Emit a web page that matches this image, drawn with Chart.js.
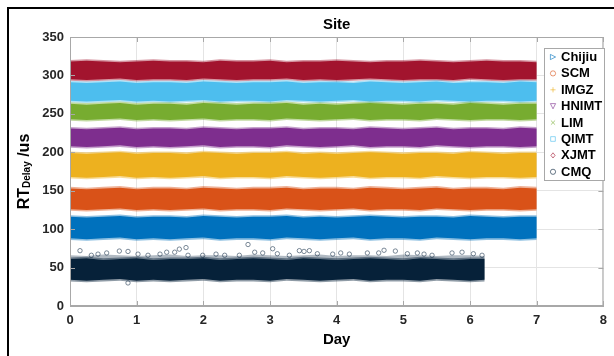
<!DOCTYPE html>
<html>
<head>
<meta charset="utf-8">
<script src="https://cdn.jsdelivr.net/npm/chart.js@4.4.1/dist/chart.umd.min.js"></script>
<style>
  html, body { margin: 0; padding: 0; background: #fff; }
  #wrap { width: 614px; height: 356px; position: relative; }
</style>
</head>
<body>
<div id="wrap"><canvas id="siteChart"></canvas></div>
<script>
// --- data ---
const sites = ['Chijiu', 'SCM', 'IMGZ', 'HNIMT', 'LIM', 'QIMT', 'XJMT', 'CMQ'];
const siteColors = ['#0072BD', '#D95319', '#EDB120', '#7E2F8E', '#77AC30', '#4DBEEE', '#A2142F', '#06223A'];
const legendMarkers = ['triangleRight', 'circle', 'cross', 'triangleDown', 'crossRot', 'rect', 'rectRot', 'circle'];

const xTicks = [0, 1, 2, 3, 4, 5, 6, 7, 8];
const yTicks = [0, 50, 100, 150, 200, 250, 300, 350];

const days = [0, 0.25, 0.5, 0.75, 1, 1.25, 1.5, 1.75, 2, 2.25, 2.5, 2.75, 3, 3.25, 3.5, 3.75,
              4, 4.25, 4.5, 4.75, 5, 5.25, 5.5, 5.75, 6, 6.25, 6.5, 6.75, 7];
const cmqDays = [0, 0.25, 0.5, 0.75, 1, 1.25, 1.5, 1.75, 2, 2.25, 2.5, 2.75, 3, 3.25, 3.5, 3.75,
                 4, 4.25, 4.5, 4.75, 5, 5.25, 5.5, 5.75, 6, 6.22];

// upper / lower edge of each dense band (us)
const chijiuTop = [116,115,116,117,115,116,116,115,117,116,115,116,116,117,115,116,115,116,117,116,115,116,116,115,117,116,115,116,116];
const chijiuBot = [88,87,88,89,87,88,87,88,89,87,88,88,87,89,88,87,88,89,87,88,88,87,89,88,87,88,88,87,88];
const scmTop = [153,152,153,154,152,153,153,152,154,153,152,153,153,154,152,153,153,152,154,153,152,153,154,152,153,153,152,154,153];
const scmBot = [126,125,126,127,125,126,125,126,127,125,126,126,125,127,126,125,126,127,125,126,126,125,127,126,125,126,126,125,126];
const imgzTop = [199,198,199,200,198,199,199,198,200,199,198,199,199,200,198,199,198,199,200,199,198,199,199,198,200,199,198,199,199];
const imgzBot = [168,167,168,169,167,168,167,168,169,167,168,168,167,169,168,167,168,169,167,168,168,167,169,168,167,168,168,167,168];
const hnimtTop = [231,230,231,232,230,231,231,230,232,231,230,231,231,232,230,231,231,230,232,231,230,231,232,230,231,231,230,232,231];
const hnimtBot = [208,207,208,209,207,208,207,208,209,207,208,208,207,209,208,207,208,209,207,208,208,207,209,208,207,208,208,207,208];
const limTop = [263,262,263,264,262,263,263,262,264,263,262,263,263,264,262,263,262,263,264,263,262,263,263,262,264,263,262,263,263];
const limBot = [243,242,243,244,242,243,242,243,244,242,243,243,242,244,243,242,243,244,242,243,243,242,244,243,242,243,243,242,243];
const qimtTop = [291,290,291,292,290,291,291,290,292,291,290,291,291,292,290,291,291,290,292,291,290,291,292,290,291,291,290,292,291];
const qimtBot = [267,266,267,268,266,267,266,267,268,266,267,267,266,268,267,266,267,268,266,267,267,266,268,267,266,267,267,266,267];
const xjmtTop = [318,319,318,317,318,319,318,318,317,319,318,318,319,317,318,318,319,318,317,318,318,319,318,317,318,319,318,318,317];
const xjmtBot = [295,294,295,296,294,295,295,294,296,295,294,295,295,296,294,295,294,295,296,295,294,295,295,294,296,295,294,295,295];
const cmqTop = [61,62,60,61,62,60,61,61,62,60,61,62,61,60,62,61,60,61,62,61,60,62,61,60,61,61];
const cmqBot = [34,33,34,35,33,34,33,34,35,33,34,34,33,35,34,33,34,35,33,34,34,33,35,34,33,34];
// loose upper layer of CMQ samples
const cmqLooseTop = [66,65,67,66,65,66,67,65,66,66,65,67,66,65,66,67,65,66,66,65,67,66,65,66,66,65];

// CMQ points that stand out above the band
const cmqOutDays = [0.15, 0.32, 0.42, 0.55, 0.74, 0.87, 0.87, 1.02, 1.17, 1.35, 1.45, 1.57, 1.64, 1.74, 1.77,
                    1.99, 2.19, 2.32, 2.54, 2.67, 2.77, 2.89, 3.04, 3.11, 3.29, 3.44, 3.51, 3.59, 3.71, 3.94,
                    4.06, 4.19, 4.46, 4.63, 4.71, 4.88, 5.06, 5.21, 5.31, 5.43, 5.73, 5.88, 6.05, 6.18];
const cmqOutDelay = [72, 66, 67.5, 69, 71.5, 71, 30, 67.5, 66, 67.5, 70, 70, 74, 76, 66,
                     66, 67.5, 66, 66, 80, 70, 69, 74.5, 68, 66, 72, 71, 72, 68, 67.5,
                     69, 67.5, 69, 69, 72.5, 71.5, 68, 69, 67.5, 66, 69, 70, 68, 66];

const bandTops = [chijiuTop, scmTop, imgzTop, hnimtTop, limTop, qimtTop, xjmtTop, cmqTop];
const bandBots = [chijiuBot, scmBot, imgzBot, hnimtBot, limBot, qimtBot, xjmtBot, cmqBot];

// --- styling ---
const FONT = '"Liberation Sans", Arial, sans-serif';
const HALO = 2;          // light fringe around each band
const AXIS_GRAY = '#a8a8a8';

function hexToRgba(hex, a) {
    const n = parseInt(hex.slice(1), 16);
    return `rgba(${(n >> 16) & 255},${(n >> 8) & 255},${n & 255},${a})`;
}

function buildDatasets() {
    const sets = [];
    const base = { type: 'line', pointRadius: 0, borderWidth: 0, tension: 0 };
    sites.forEach((name, i) => {
        const xs = name === 'CMQ' ? cmqDays : days;
        const top = bandTops[i], bot = bandBots[i];
        // fringe
        sets.push({ ...base, label: name + ' lo', fill: false,
            data: xs.map((d, k) => ({ x: d, y: bot[k] - HALO })) });
        sets.push({ ...base, label: name + ' hi', fill: '-1', backgroundColor: hexToRgba(siteColors[i], 0.45),
            data: xs.map((d, k) => ({ x: d, y: top[k] + HALO })) });
        // dense core
        sets.push({ ...base, label: name + ' lo2', fill: false,
            data: xs.map((d, k) => ({ x: d, y: bot[k] })) });
        sets.push({ ...base, label: name, fill: '-1', backgroundColor: siteColors[i],
            data: xs.map((d, k) => ({ x: d, y: top[k] })) });
    });
    // loose CMQ layer above the core
    sets.push({ ...base, label: 'CMQ loose lo', fill: false,
        data: cmqDays.map((d, k) => ({ x: d, y: cmqTop[k] })) });
    sets.push({ ...base, label: 'CMQ loose', fill: '-1', backgroundColor: 'rgba(30,55,80,0.35)',
        data: cmqDays.map((d, k) => ({ x: d, y: cmqLooseTop[k] })) });
    sets.push({
        type: 'scatter', label: 'CMQ outliers',
        data: cmqOutDays.map((d, k) => ({ x: d, y: cmqOutDelay[k] })),
        pointStyle: 'circle', pointRadius: 2.2, borderWidth: 0.8,
        borderColor: 'rgba(50,72,95,0.8)', backgroundColor: 'rgba(0,0,0,0)'
    });
    return sets;
}

function drawMarker(ctx, style, x, y, color) {
    const r = 2.6;
    ctx.save();
    ctx.strokeStyle = color;
    ctx.lineWidth = 1;
    ctx.beginPath();
    if (style === 'circle') {
        ctx.arc(x, y, r, 0, Math.PI * 2);
    } else if (style === 'triangleRight') {
        ctx.moveTo(x + r, y); ctx.lineTo(x - r, y - r); ctx.lineTo(x - r, y + r); ctx.closePath();
    } else if (style === 'triangleDown') {
        ctx.moveTo(x, y + r); ctx.lineTo(x - r, y - r); ctx.lineTo(x + r, y - r); ctx.closePath();
    } else if (style === 'cross') {
        ctx.moveTo(x - r, y); ctx.lineTo(x + r, y); ctx.moveTo(x, y - r); ctx.lineTo(x, y + r);
    } else if (style === 'crossRot') {
        ctx.moveTo(x - r * 0.8, y - r * 0.8); ctx.lineTo(x + r * 0.8, y + r * 0.8);
        ctx.moveTo(x + r * 0.8, y - r * 0.8); ctx.lineTo(x - r * 0.8, y + r * 0.8);
    } else if (style === 'rect') {
        ctx.rect(x - r * 0.9, y - r * 0.9, r * 1.8, r * 1.8);
    } else if (style === 'rectRot') {
        ctx.moveTo(x, y - r); ctx.lineTo(x + r * 0.8, y); ctx.lineTo(x, y + r); ctx.lineTo(x - r * 0.8, y); ctx.closePath();
    }
    ctx.stroke();
    ctx.restore();
}

const decorPlugin = {
    id: 'decor',
    afterDraw(chart) {
        const { ctx, chartArea: a, scales } = chart;
        ctx.save();

        // axes box + inward ticks
        ctx.strokeStyle = AXIS_GRAY;
        ctx.lineWidth = 1;
        ctx.strokeRect(a.left + 0.5, a.top + 0.5, a.right - a.left - 1, a.bottom - a.top - 1);
        ctx.beginPath();
        xTicks.forEach(v => {
            const px = Math.round(scales.x.getPixelForValue(v)) + 0.5;
            ctx.moveTo(px, a.top); ctx.lineTo(px, a.top + 5);
            ctx.moveTo(px, a.bottom); ctx.lineTo(px, a.bottom - 5);
        });
        yTicks.forEach(v => {
            const py = Math.round(scales.y.getPixelForValue(v)) + 0.5;
            ctx.moveTo(a.left, py); ctx.lineTo(a.left + 5, py);
            ctx.moveTo(a.right, py); ctx.lineTo(a.right - 5, py);
        });
        ctx.stroke();

        // title + x label
        ctx.fillStyle = '#000';
        ctx.textAlign = 'center';
        ctx.textBaseline = 'middle';
        ctx.font = `bold 15px ${FONT}`;
        const cx = (a.left + a.right) / 2;
        ctx.fillText('Site', cx, 25);
        ctx.fillText('Day', cx, 340);

        // y label with subscript
        ctx.save();
        ctx.translate(29, (a.top + a.bottom) / 2);
        ctx.rotate(-Math.PI / 2);
        ctx.textAlign = 'left';
        ctx.textBaseline = 'alphabetic';
        const parts = [['RT', `bold 16px ${FONT}`, 0], ['Delay', `bold 10px ${FONT}`, 1], [' /us', `bold 16px ${FONT}`, 0]];
        let total = 0;
        parts.forEach(p => { ctx.font = p[1]; total += ctx.measureText(p[0]).width; });
        let ux = -total / 2;
        parts.forEach(p => {
            ctx.font = p[1];
            ctx.fillText(p[0], ux, p[2]);
            ux += ctx.measureText(p[0]).width;
        });
        ctx.restore();

        // legend
        const lx = 544, ly = 48, lw = 60, lh = 132;
        ctx.fillStyle = '#fff';
        ctx.fillRect(lx, ly, lw, lh);
        ctx.strokeStyle = AXIS_GRAY;
        ctx.strokeRect(lx + 0.5, ly + 0.5, lw, lh);
        ctx.font = `bold 13px ${FONT}`;
        ctx.textAlign = 'left';
        ctx.textBaseline = 'middle';
        sites.forEach((name, i) => {
            const y = 57 + i * 16.4;
            drawMarker(ctx, legendMarkers[i], 553, y, hexToRgba(siteColors[i], 0.6));
            ctx.fillStyle = '#000';
            ctx.fillText(name, 561, y + 0.5);
        });

        // outer figure frame
        ctx.fillStyle = '#000';
        ctx.fillRect(7, 7, chart.width - 7, 2);
        ctx.fillRect(7, 7, 2, chart.height - 7);
        ctx.restore();
    }
};

new Chart(document.getElementById('siteChart'), {
    type: 'line',
    data: { datasets: buildDatasets() },
    options: {
        responsive: true,
        maintainAspectRatio: false,
        animation: false,
        layout: { padding: { top: 37, right: 9, left: 0, bottom: 0 } },
        plugins: { legend: { display: false }, tooltip: { enabled: false }, title: { display: false } },
        scales: {
            x: {
                type: 'linear', min: 0, max: 8,
                afterBuildTicks: s => { s.ticks = xTicks.map(v => ({ value: v })); },
                afterFit: s => { s.height = 50; },
                grid: { color: '#e4e4e4', drawTicks: false },
                border: { color: AXIS_GRAY },
                ticks: { padding: 7, color: '#262626', font: { family: FONT, size: 13, weight: 'bold' } }
            },
            y: {
                type: 'linear', min: 0, max: 350,
                afterBuildTicks: s => { s.ticks = yTicks.map(v => ({ value: v })); },
                afterFit: s => { s.width = 70; },
                grid: { color: '#e4e4e4', drawTicks: false },
                border: { color: AXIS_GRAY },
                ticks: { padding: 6, color: '#262626', font: { family: FONT, size: 13, weight: 'bold' } }
            }
        }
    },
    plugins: [decorPlugin]
});
</script>
</body>
</html>
